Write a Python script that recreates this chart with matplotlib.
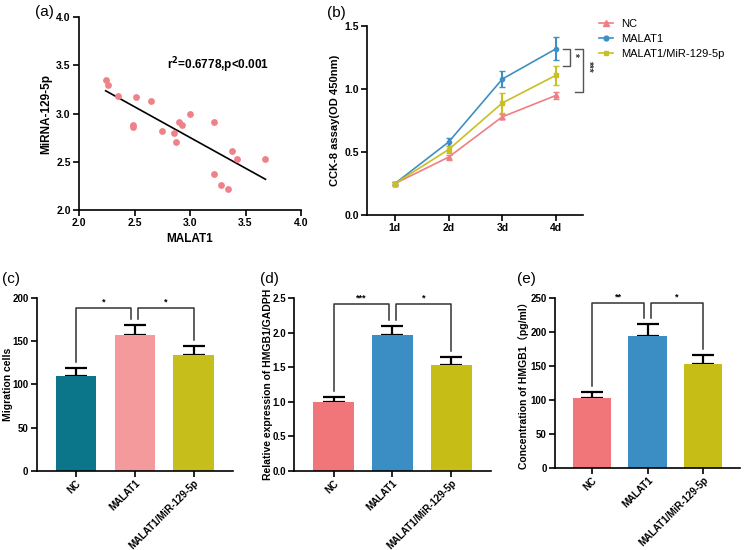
import numpy as np
import matplotlib
matplotlib.use('Agg')
import matplotlib.pyplot as plt
from matplotlib.lines import Line2D

plt.rcParams['font.family'] = ['Liberation Sans', 'Noto Sans CJK SC', 'DejaVu Sans']
plt.rcParams['font.weight'] = 'bold'

# (a) scatter data
malat1_x = [2.24, 2.26, 2.35, 2.51, 2.65, 2.49, 2.49, 2.75, 2.86, 2.87, 2.90, 2.93,
            3.00, 3.22, 3.38, 3.42, 3.68, 3.22, 3.28, 3.34]
mirna_y = [3.35, 3.30, 3.18, 3.17, 3.13, 2.88, 2.86, 2.82, 2.80, 2.71, 2.91, 2.88,
           3.00, 2.91, 2.61, 2.53, 2.53, 2.37, 2.26, 2.22]

# (b) CCK-8 growth curves
days = ['1d', '2d', '3d', '4d']
cck_nc = [0.25, 0.46, 0.78, 0.95]
cck_nc_err = [0.01, 0.02, 0.02, 0.03]
cck_malat1 = [0.25, 0.58, 1.08, 1.32]
cck_malat1_err = [0.01, 0.03, 0.06, 0.09]
cck_mir = [0.25, 0.52, 0.89, 1.11]
cck_mir_err = [0.01, 0.03, 0.08, 0.075]

groups = ['NC', 'MALAT1', 'MALAT1/MiR-129-5p']

# (c) migration
mig = [110, 157, 134]
mig_err = [9, 12, 10]
# (d) relative expression
rel = [0.99, 1.96, 1.53]
rel_err = [0.07, 0.14, 0.12]
# (e) concentration
conc = [103, 194, 153]
conc_err = [9, 18, 13]

c_nc = '#EF7F84'
c_ma = '#3F8FC4'
c_mi = '#C8BF22'

fig = plt.figure(figsize=(7.54, 5.5), dpi=100)


def style(ax, size=7):
    for s in ['top', 'right']:
        ax.spines[s].set_visible(False)
    for s in ['left', 'bottom']:
        ax.spines[s].set_linewidth(1.2)
    ax.tick_params(width=1.2, length=4, labelsize=size, pad=2)
    for lab in ax.get_xticklabels() + ax.get_yticklabels():
        lab.set_fontweight('bold')


# ---- (a)
ax = fig.add_axes([0.1048, 0.618, 0.2944, 0.351])
ax.scatter(malat1_x, mirna_y, s=24, color='#EF8188', zorder=3, linewidths=0)
k, b = np.polyfit(malat1_x, mirna_y, 1)
xs = np.array([min(malat1_x), max(malat1_x)])
ax.plot(xs, k * xs + b, color='black', lw=1.2)
ax.set_xlim(2.0, 4.0)
ax.set_ylim(2.0, 4.0)
ax.set_xticks([2.0, 2.5, 3.0, 3.5, 4.0])
ax.set_yticks([2.0, 2.5, 3.0, 3.5, 4.0])
ax.set_xlabel('MALAT1', fontsize=8.5, fontweight='bold', labelpad=3)
ax.set_ylabel('MiRNA-129-5p', fontsize=8.5, fontweight='bold', labelpad=3)
ax.text(3.25, 3.5, r'r$^\mathbf{2}$=0.6778,p<0.001', fontsize=8.5, fontweight='bold', ha='center', va='center')
style(ax, 7.5)

# ---- (b)
ax = fig.add_axes([0.4867, 0.609, 0.2865, 0.3436])
x = np.arange(1, 5)
ax.errorbar(x, cck_nc, yerr=cck_nc_err, color=c_nc, marker='^', ms=3.5, lw=1.2, capsize=2.5, elinewidth=1.5)
ax.errorbar(x, cck_malat1, yerr=cck_malat1_err, color=c_ma, marker='o', ms=3, lw=1.2, capsize=2.5, elinewidth=1.5)
ax.errorbar(x, cck_mir, yerr=cck_mir_err, color=c_mi, marker='s', ms=3, lw=1.2, capsize=2.5, elinewidth=1.5)
ax.set_xlim(0.48, 4.5)
ax.set_ylim(0, 1.5)
ax.set_xticks(x)
ax.set_xticklabels(days)
ax.set_yticks([0, 0.5, 1.0, 1.5])
ax.set_ylabel('CCK-8 assay(OD 450nm)', fontsize=8, fontweight='bold', labelpad=3)
# significance brackets
gray = '#555555'
y1 = cck_malat1[3]
y2 = cck_mir[3] + cck_mir_err[3]
y3 = cck_nc[3] + cck_nc_err[3]
ax.plot([4.13, 4.26, 4.26, 4.13], [y1, y1, y2, y2], color=gray, lw=1, clip_on=False)
ax.text(4.33, (y1 + y2) / 2 + 0.02, '*', rotation=270, fontsize=7, ha='center', va='center', color='#333333')
ax.plot([4.35, 4.5, 4.5, 4.35], [y1, y1, y3, y3], color=gray, lw=1, clip_on=False)
ax.text(4.6, (y1 + y3) / 2 + 0.03, '***', rotation=270, fontsize=7, ha='center', va='center', color='#333333')
handles = [Line2D([], [], color=c_nc, marker='^', ms=4, lw=1.2),
           Line2D([], [], color=c_ma, marker='o', ms=3.5, lw=1.2),
           Line2D([], [], color=c_mi, marker='s', ms=3.5, lw=1.2)]
ax.legend(handles, groups, loc='upper left', bbox_to_anchor=(1.055, 1.06), frameon=False,
          handlelength=1.25, handletextpad=0.7, borderaxespad=0, labelspacing=0.42,
          prop={'weight': 'normal', 'size': 8})
style(ax, 7.5)


# ---- bar panels
def bar_panel(rect, vals, errs, colors, ylim, yticks, ylabel, stars, level, label_x):
    ax = fig.add_axes(rect)
    pos = np.arange(3)
    ax.bar(pos, vals, width=0.69, color=colors, zorder=2)
    ax.errorbar(pos, vals, yerr=[[0, 0, 0], errs], fmt='none', ecolor='black',
                elinewidth=1.6, capsize=8, capthick=1.6, zorder=1)
    ax.set_xlim(-0.667, 2.667)
    ax.set_ylim(0, ylim)
    ax.set_yticks(yticks)
    ax.set_xticks(pos)
    ax.set_xticklabels(groups, rotation=45, ha='right', rotation_mode='anchor', fontsize=6.2, fontweight='bold')
    ax.set_ylabel(ylabel, fontsize=7.5, fontweight='bold')
    ax.yaxis.set_label_coords(label_x, 0.5)
    gap = ylim * 0.035
    tops = [v + e + gap for v, e in zip(vals, errs)]
    # left bracket NC vs MALAT1
    ax.plot([0, 0, 0.94, 0.94], [tops[0], level, level, tops[1]], color='#333333', lw=1.1)
    ax.text(0.47, level + ylim * 0.01, stars[0], ha='center', va='bottom', fontsize=6.5)
    # right bracket MALAT1 vs MiR
    ax.plot([1.06, 1.06, 2, 2], [tops[1], level, level, tops[2]], color='#333333', lw=1.1)
    ax.text(1.53, level + ylim * 0.01, stars[1], ha='center', va='bottom', fontsize=6.5)
    style(ax, 7)
    ax.tick_params(axis='x', pad=1.5)
    return ax


bar_panel([0.0487, 0.1442, 0.2603, 0.314], mig, mig_err, ['#0B7589', '#F4999C', '#C5BE1B'],
          200, [0, 50, 100, 150, 200], 'Migration cells', ['*', '*'], 188, -0.121)
bar_panel([0.3903, 0.1442, 0.2605, 0.314], rel, rel_err, ['#F07679', '#3A8EC4', '#C6BE16'],
          2.5, [0, 0.5, 1.0, 1.5, 2.0, 2.5], 'Relative expression of HMGB1/GADPH', ['***', '*'], 2.41, -0.108)
bar_panel([0.7361, 0.1496, 0.2454, 0.308], conc, conc_err, ['#F07679', '#3A8EC4', '#C6BE16'],
          250, [0, 50, 100, 150, 200, 250], 'Concentration of HMGB1（pg/ml）', ['**', '*'], 243, -0.142)

# panel labels
for lx, ly, t in [(0.046, 0.978, '(a)'), (0.434, 0.976, '(b)'), (0.003, 0.492, '(c)'),
                  (0.345, 0.492, '(d)'), (0.686, 0.492, '(e)')]:
    fig.text(lx, ly, t, fontsize=11, fontweight='normal', va='center')

fig.savefig('out.png', dpi=100)
